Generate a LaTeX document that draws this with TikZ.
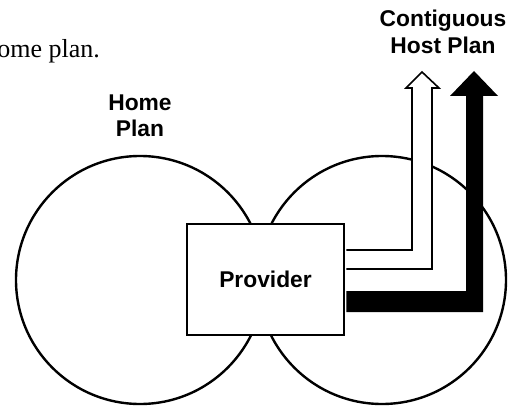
\documentclass[tikz,border=0pt]{standalone}
\usepackage{fontspec}
\setmainfont{Liberation Serif}
\setsansfont{Liberation Sans}
\usetikzlibrary{calc}
\begin{document}
\begin{tikzpicture}[x=1pt,y=-1pt,
  plan/.style={circle,draw=black,line width=2.4pt,inner sep=0pt,minimum size=248pt},
  title/.style={font=\sffamily\bfseries\fontsize{22.8}{26.7}\selectfont,align=center},
  boxed/.style={draw=black,line width=2.4pt,fill=white,minimum width=157pt,minimum height=111pt,inner sep=0pt},
  hollow/.style={draw=black,line width=1.6pt,fill=white,line join=miter},
  solid/.style={fill=black,draw=none}]
\useasboundingbox (0,0) rectangle (521,406);

% running text cut by the page edge
\node[anchor=base east,inner sep=0pt,font=\fontsize{26}{30}\selectfont] (txt) at (100,58) {ome plan.};

% the two overlapping plans
\node[plan] (home) at (140,280) {};
\node[plan] (host) at (382,280) {};

% captions (anchored at the baseline of their last line)
\node[title,anchor=base,inner sep=0pt] (homelbl) at (140,137) {Home\\Plan};
\node[title,anchor=base,inner sep=0pt] (hostlbl) at (443,53.3) {Contiguous\\Host Plan};

% the provider box
\node[boxed,title] (prov) at (265.5,279.5) {Provider};
\coordinate (out) at ($(prov.east)+(1.2,0)$);

% arrow tips
\coordinate (whitetip) at (422,72);
\coordinate (blacktip) at (474,71);

% hollow arrow
\draw[hollow] (out |- 0,250) -- (412,250) -- (412,88) -- (406,88) -- (whitetip)
  -- (439,88) -- (432,88) -- (432,269) -- (out |- 0,269);

% solid arrow
\fill[solid] (out |- 0,291) -- (466,291) -- (466,96) -- (450,96) -- (blacktip)
  -- (498,96) -- (483,96) -- (483,312) -- (out |- 0,312) -- cycle;
\end{tikzpicture}
\end{document}
